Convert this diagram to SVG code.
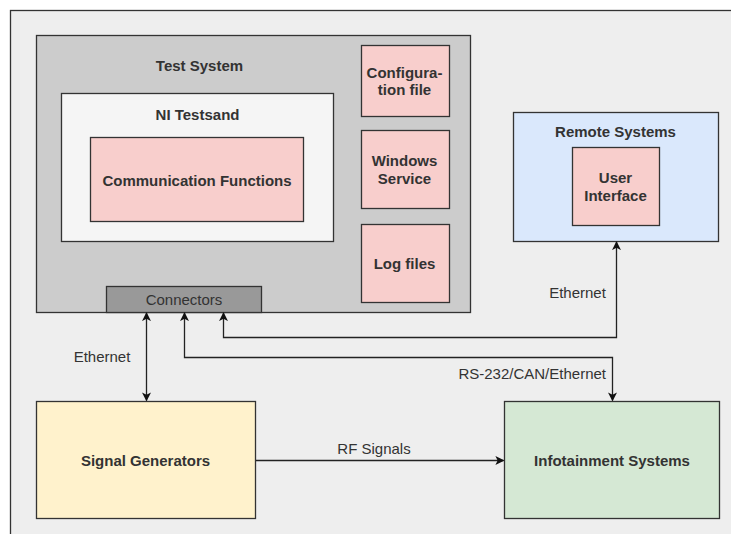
<svg xmlns="http://www.w3.org/2000/svg" width="731" height="534" viewBox="0 0 731 534">
  <style>
    .box { stroke: #333333; stroke-width: 1.3; }
    .t { font-family: "Liberation Sans", Arial, sans-serif; font-size: 15px; fill: #333333; text-anchor: middle; }
    .b { font-weight: bold; }
    .edge { fill: none; stroke: #222222; stroke-width: 1.3; }
  </style>
  <defs>
    <marker id="arrow" viewBox="0 0 10 10" refX="9" refY="5" markerWidth="9" markerHeight="9" markerUnits="userSpaceOnUse" orient="auto-start-reverse">
      <path d="M0,0 L10,5 L0,10 L2.5,5 z" fill="#111111"/>
    </marker>
  </defs>

  <rect x="0" y="0" width="731" height="534" fill="#ffffff"/>

  <!-- outer frame -->
  <g id="frame">
    <rect x="10.5" y="10.5" width="740" height="540" fill="#eeeeee" class="box"/>
  </g>

  <!-- test system container -->
  <g id="test-system">
    <rect x="36.5" y="35.5" width="434" height="277" fill="#cccccc" class="box"/>
    <text x="199.5" y="70.5" class="t b">Test System</text>
  </g>

  <g id="ni-testsand">
    <rect x="61.5" y="93.5" width="272" height="148" fill="#f5f5f5" class="box"/>
    <text x="197.5" y="119.5" class="t b">NI Testsand</text>
  </g>

  <g id="communication-functions">
    <rect x="90.5" y="137.5" width="213" height="84" fill="#f8cecc" class="box"/>
    <text x="197" y="185.5" class="t b">Communication Functions</text>
  </g>

  <g id="configuration-file">
    <rect x="361.5" y="45.5" width="88" height="71" fill="#f8cecc" class="box"/>
    <text x="404.5" y="77.5" class="t b">Configura-</text>
    <text x="404.5" y="95" class="t b">tion file</text>
  </g>

  <g id="windows-service">
    <rect x="361.5" y="130.5" width="88" height="78" fill="#f8cecc" class="box"/>
    <text x="404.5" y="165.5" class="t b">Windows</text>
    <text x="404.5" y="183.5" class="t b">Service</text>
  </g>

  <g id="log-files">
    <rect x="361.5" y="224.5" width="88" height="78" fill="#f8cecc" class="box"/>
    <text x="404.5" y="268.5" class="t b">Log files</text>
  </g>

  <g id="connectors">
    <rect x="106.5" y="286.5" width="155" height="26" fill="#999999" class="box"/>
    <text x="184" y="304.5" class="t">Connectors</text>
  </g>

  <!-- remote side -->
  <g id="remote-systems">
    <rect x="513.5" y="112.5" width="205" height="129" fill="#dae8fc" class="box"/>
    <text x="615.5" y="136.5" class="t b">Remote Systems</text>
  </g>

  <g id="user-interface">
    <rect x="572.5" y="147.5" width="87" height="78" fill="#f8cecc" class="box"/>
    <text x="615.5" y="183" class="t b">User</text>
    <text x="615.5" y="200.5" class="t b">Interface</text>
  </g>

  <g id="signal-generators">
    <rect x="36.5" y="401.5" width="219" height="117" fill="#fff2cc" class="box"/>
    <text x="145.5" y="465.5" class="t b">Signal Generators</text>
  </g>

  <g id="infotainment-systems">
    <rect x="504.5" y="401.5" width="215" height="117" fill="#d5e8d4" class="box"/>
    <text x="612" y="465.5" class="t b">Infotainment Systems</text>
  </g>

  <!-- links between the blocks -->
  <g id="edges">
    <path class="edge" d="M146.5,313 L146.5,400.5" marker-start="url(#arrow)" marker-end="url(#arrow)"/>
    <path class="edge" d="M184.5,313 L184.5,357.5 L612.5,357.5 L612.5,400.5" marker-start="url(#arrow)" marker-end="url(#arrow)"/>
    <path class="edge" d="M223.5,313 L223.5,337.5 L616.5,337.5 L616.5,242" marker-start="url(#arrow)" marker-end="url(#arrow)"/>
    <path class="edge" d="M256,460.5 L503.5,460.5" marker-end="url(#arrow)"/>
    <text x="102" y="362" class="t">Ethernet</text>
    <text x="577.5" y="298" class="t">Ethernet</text>
    <text x="606" y="378.5" class="t" style="text-anchor:end">RS-232/CAN/Ethernet</text>
    <text x="374" y="453.5" class="t">RF Signals</text>
  </g>
</svg>
